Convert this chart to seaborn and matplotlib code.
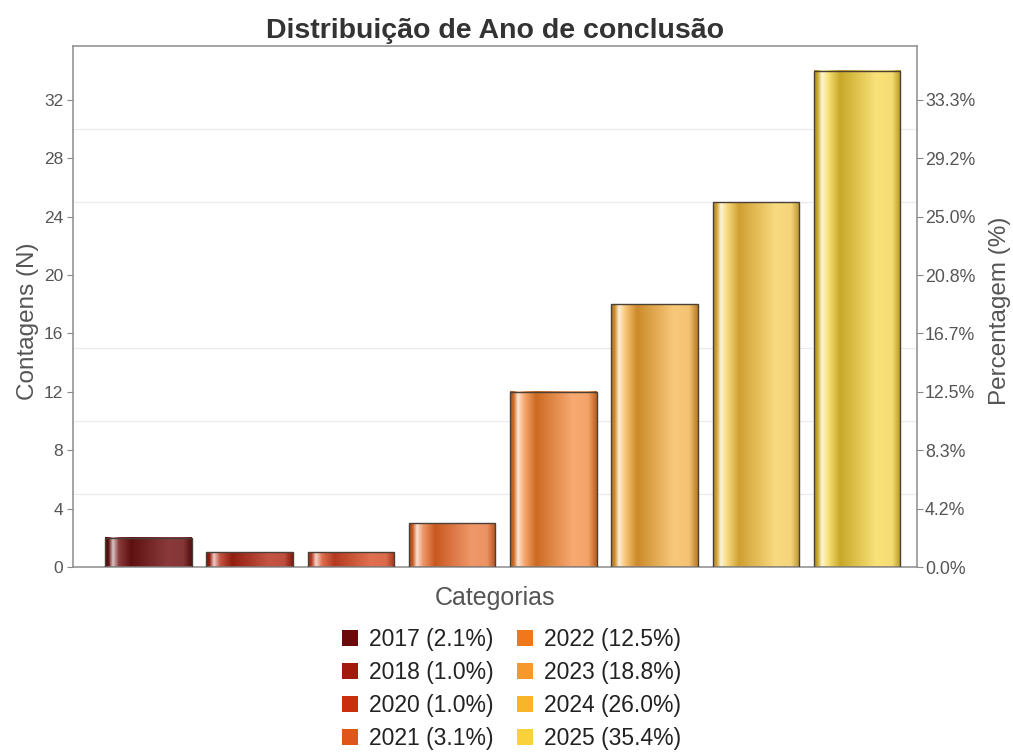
import numpy as np
import pandas as pd
import matplotlib
matplotlib.use('Agg')
import matplotlib.pyplot as plt
import seaborn as sns
from matplotlib.colors import LinearSegmentedColormap, to_rgb
from matplotlib.patches import Patch
from matplotlib.ticker import FixedLocator

anos = ['2017', '2018', '2020', '2021', '2022', '2023', '2024', '2025']
contagens = [2, 1, 1, 3, 12, 18, 25, 34]

cores_legenda = ['#6b0a0a', '#a3190c', '#c92e0e', '#e0561a', '#f07818', '#f7982a', '#f8b52a', '#f8d23a']
cores_base = ['#5e1010', '#921e10', '#b33a20', '#c95820', '#cc6a22', '#cc8a2a', '#cfa032', '#c8a828']
cores_luz = ['#8a3a3a', '#c45444', '#e07050', '#f0986a', '#f8aa72', '#f8c87a', '#f8da80', '#fae27a']

total = sum(contagens)
df = pd.DataFrame({'ano': anos, 'n': contagens})

sns.set_style('white')
plt.rcParams['font.family'] = ['Liberation Sans', 'DejaVu Sans']

fig, ax = plt.subplots(figsize=(10.13, 7.53), dpi=100)
fig.subplots_adjust(left=0.072, right=0.905, top=0.939, bottom=0.247)

sns.barplot(data=df, x='ano', y='n', hue='ano', palette=cores_legenda,
            width=0.855, legend=False, ax=ax)


def gradiente(base, luz):
    b = np.array(to_rgb(base))
    l = np.array(to_rgb(luz))
    w = np.ones(3)
    stops = [(0.0, b * 0.85), (0.04, b), (0.09, l * 0.3 + w * 0.7),
             (0.16, l), (0.30, b), (0.72, l), (0.90, l * 0.9 + b * 0.1), (1.0, b * 0.9)]
    return LinearSegmentedColormap.from_list('g', [(t, tuple(np.clip(c, 0, 1))) for t, c in stops])


for p, cb, cl in zip(ax.patches, cores_base, cores_luz):
    x0, y0 = p.get_x(), p.get_y()
    w, h = p.get_width(), p.get_height()
    img = np.linspace(0, 1, 256).reshape(1, -1)
    ax.imshow(img, cmap=gradiente(cb, cl), extent=[x0, x0 + w, y0, y0 + h],
              aspect='auto', zorder=2, interpolation='bilinear')
    p.set_facecolor('none')
    p.set_edgecolor('#4a4035')
    p.set_linewidth(1.0)
    p.set_zorder(3)

ax.set_xlim(-0.745, 7.59)
ax.set_ylim(0, 35.7)
ax.yaxis.set_major_locator(FixedLocator(range(0, 33, 4)))
ax.yaxis.set_minor_locator(FixedLocator(range(5, 31, 5)))
ax.grid(which='minor', axis='y', color='#ebebeb', linewidth=0.9, zorder=0)
ax.set_axisbelow(True)
ax.set_xticks([])
ax.tick_params(axis='y', which='major', direction='out', length=4, color='#888888', pad=3,
               labelsize=12.5, labelcolor='#555555', left=True)
ax.tick_params(axis='y', which='minor', length=0)
for s in ax.spines.values():
    s.set_color('#8c8c8c')
    s.set_linewidth(1.1)

ax.set_xlabel('Categorias', fontsize=18, color='#555555', labelpad=14)
ax.set_ylabel('Contagens (N)', fontsize=17.5, color='#555555')
ax.yaxis.set_label_coords(-0.04, 0.472)
ax.set_title('Distribuição de Ano de conclusão', fontsize=20.5, fontweight='bold',
             color='#333333', pad=6)

ax2 = ax.twinx()
ax2.set_ylim(ax.get_ylim())
ticks = list(range(0, 33, 4))
ax2.yaxis.set_major_locator(FixedLocator(ticks))
ax2.set_yticklabels([f'{t / total * 100:.1f}%' for t in ticks])
ax2.tick_params(axis='y', direction='out', length=4, color='#888888', pad=2,
                labelsize=12.8, labelcolor='#555555', right=True)
ax2.set_ylabel('Percentagem (%)', fontsize=17.5, color='#555555')
ax2.yaxis.set_label_coords(1.086, 0.491)
for s in ax2.spines.values():
    s.set_visible(False)

handles = [Patch(facecolor=c, edgecolor='none') for c in cores_legenda]
rotulos = [f'{a} ({n / total * 100:.1f}%)' for a, n in zip(anos, contagens)]
fig.legend(handles, rotulos, loc='upper center', bbox_to_anchor=(0.505, 0.178),
           ncol=2, frameon=False, fontsize=16.5, handlelength=0.7, handleheight=0.7,
           handletextpad=0.5, columnspacing=1.0, labelspacing=0.44, borderaxespad=0,
           labelcolor='#222222')

fig.savefig('out.png', dpi=100)
